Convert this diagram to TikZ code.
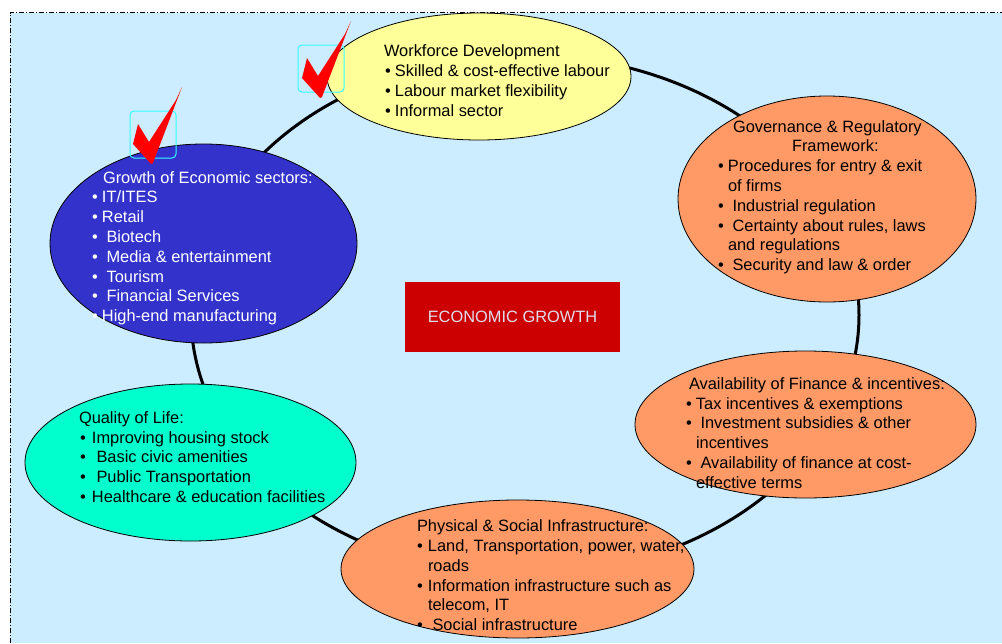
\documentclass[tikz,border=0pt]{standalone}
\usepackage{fontspec}
\setmainfont{Liberation Sans}
\usetikzlibrary{shapes.geometric}
\definecolor{bgblue}{HTML}{CCECFF}
\definecolor{wfyellow}{HTML}{FFFF99}
\definecolor{orng}{HTML}{FF9966}
\definecolor{grblue}{HTML}{3333CC}
\definecolor{aqua}{HTML}{00FFCC}
\definecolor{boxred}{HTML}{CC0000}
\definecolor{boxtxt}{RGB}{222,222,236}
\definecolor{chkred}{HTML}{FF0000}
\definecolor{cyanbox}{HTML}{33FFFF}
\newcommand{\bi}[1]{\makebox[#1][l]{•}}
\tikzset{
  oval/.style={ellipse, draw=black, line width=0.8pt, inner sep=0pt, outer sep=0pt},
  txt/.style={anchor=north west, inner sep=0pt, outer sep=0pt, align=left,
    font=\fontsize{16.4}{19.8}\selectfont},
  cbox/.style={draw=cyanbox, line width=1pt, rounded corners=4pt, minimum width=46pt, minimum height=47pt, inner sep=0pt},
}
\begin{document}
\begin{tikzpicture}[x=1pt,y=-1pt]
\useasboundingbox (0,0) rectangle (1002,643);
\fill[white] (0,0) rectangle (1002,643);
\fill[bgblue] (10,12.5) rectangle (1002,643);
\draw[line width=0.7pt, dash pattern=on 5pt off 2pt on 1pt off 2pt] (10,643) -- (10,12.5) -- (1002,12.5);

% ring connecting all factors
\node[ellipse, draw=black, line width=3pt, minimum width=668pt, minimum height=520pt, inner sep=0pt] (ring) at (525,315) {};

% ellipses
\node[oval, fill=wfyellow, minimum width=304pt, minimum height=127pt] (wf) at (479,76.5) {};
\node[oval, fill=orng, minimum width=298pt, minimum height=206pt] (gov) at (827,199) {};
\node[oval, fill=orng, minimum width=341pt, minimum height=147pt] (fin) at (805.5,424.5) {};
\node[oval, fill=orng, minimum width=353pt, minimum height=138pt] (phy) at (517.5,569) {};
\node[oval, fill=aqua, minimum width=331pt, minimum height=157pt] (qol) at (190.5,462.5) {};
\node[oval, fill=grblue, minimum width=307pt, minimum height=199pt] (gro) at (203.5,243.5) {};

% texts
\node[txt] (wft) at (385,42.8) {\strut\hspace*{-1pt}Workforce Development\\
\strut\bi{10pt}Skilled \& cost-effective labour\\
\strut\bi{10pt}Labour market flexibility\\
\strut\bi{10pt}Informal sector};

\node[txt] (govt) at (718,118.2) {\strut\hspace*{15pt}Governance \& Regulatory\\
\strut\hspace*{74pt}Framework:\\
\strut\bi{10pt}Procedures for entry \& exit\\
\strut\hspace*{10pt}of firms\\
\strut\bi{10pt}\ Industrial regulation\\
\strut\bi{10pt}\ Certainty about rules, laws\\
\strut\hspace*{10pt}and regulations\\
\strut\bi{10pt}\ Security and law \& order};

\node[txt] (fint) at (686,375.5) {\strut\hspace*{3pt}Availability of Finance \& incentives:\\
\strut\bi{10pt}Tax incentives \& exemptions\\
\strut\bi{10pt}\ Investment subsidies \& other\\
\strut\hspace*{10pt}incentives\\
\strut\bi{10pt}\ Availability of finance at cost-\\
\strut\hspace*{10pt}effective terms};

\node[txt] (phyt) at (417,517.8) {\strut Physical \& Social Infrastructure:\\
\strut\bi{11pt}Land, Transportation, power, water,\\
\strut\hspace*{11pt}roads\\
\strut\bi{11pt}Information infrastructure such as\\
\strut\hspace*{11pt}telecom, IT\\
\strut\bi{11pt}\ Social infrastructure};

\node[txt] (qolt) at (80,409.4) {\strut\hspace*{-1pt}Quality of Life:\\
\strut\bi{12pt}Improving housing stock\\
\strut\bi{12pt}\ Basic civic amenities\\
\strut\bi{12pt}\ Public Transportation\\
\strut\bi{12pt}Healthcare \& education facilities};

\node[txt, text=white] (grot) at (92,169.2) {\strut\hspace*{11pt}Growth of Economic sectors:\\
\strut\bi{10pt}IT/ITES\\
\strut\bi{10pt}Retail\\
\strut\bi{10pt}\ Biotech\\
\strut\bi{10pt}\ Media \& entertainment\\
\strut\bi{10pt}\ Tourism\\
\strut\bi{10pt}\ Financial Services\\
\strut\bi{10pt}High-end manufacturing};

% centre box
\node[fill=boxred, minimum width=215pt, minimum height=70pt, inner sep=0pt, text=boxtxt, font=\fontsize{16.4}{19.8}\selectfont] (eg) at (512.5,317) {ECONOMIC GROWTH};

% tick marks
\node[cbox] (c1) at (321,68.5) {};
\node[cbox] (c2) at (153,134.5) {};
\fill[chkred, shift={(320,98)}] (31,-77) -- (2,-1) -- (0,0) -- (-18,-20) -- (-13,-40) -- (-2,-22) -- (25,-64) -- cycle;
\fill[chkred, shift={(151,164)}] (31,-77) -- (2,-1) -- (0,0) -- (-18,-20) -- (-13,-40) -- (-2,-22) -- (25,-64) -- cycle;
\end{tikzpicture}
\end{document}
